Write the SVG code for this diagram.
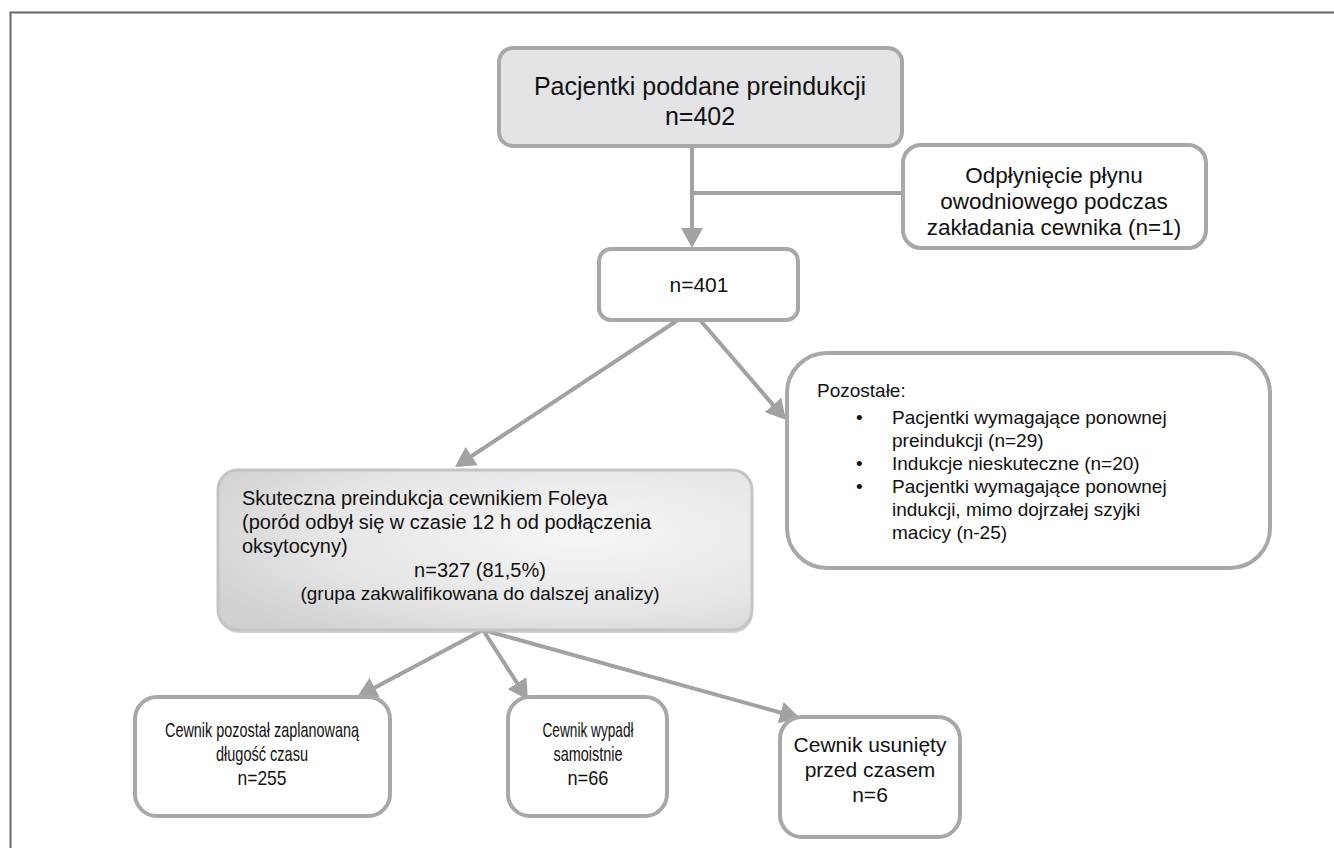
<svg xmlns="http://www.w3.org/2000/svg" width="1334" height="848" viewBox="0 0 1334 848">
<style>
.box{fill:#ffffff;stroke:#a8a8a8;stroke-width:4}
.t{font-family:"Liberation Sans",Arial,sans-serif;fill:#111111}
.c{text-anchor:middle}
.conn{stroke:#a2a2a4;stroke-width:4;fill:none}
</style>
<defs>
<marker id="arr" viewBox="0 0 20 22" refX="8" refY="11" markerWidth="20" markerHeight="22" markerUnits="userSpaceOnUse" orient="auto">
<path d="M0,0 L20,11 L0,22 z" fill="#a2a2a4"/>
</marker>
<radialGradient id="g1" cx="0.68" cy="0.4" r="0.8">
<stop offset="0" stop-color="#f6f6f6"/>
<stop offset="0.6" stop-color="#e6e6e6"/>
<stop offset="1" stop-color="#d0d0d0"/>
</radialGradient>
</defs>
<rect width="1334" height="848" fill="#ffffff"/>
<path d="M10.5,848 V12.5 H1334" fill="none" stroke="#666666" stroke-width="2"/>

<g id="connectors">
<line class="conn" x1="692" y1="146" x2="692" y2="236" marker-end="url(#arr)"/>
<line class="conn" x1="692" y1="193" x2="903" y2="193"/>
<line class="conn" x1="678" y1="320" x2="465" y2="460.4" marker-end="url(#arr)"/>
<line class="conn" x1="700" y1="320" x2="778.2" y2="410.9" marker-end="url(#arr)"/>
<line class="conn" x1="483" y1="630" x2="367.6" y2="691.4" marker-end="url(#arr)"/>
<line class="conn" x1="483" y1="630" x2="521.5" y2="689.9" marker-end="url(#arr)"/>
<line class="conn" x1="483" y1="630" x2="788.4" y2="714.8" marker-end="url(#arr)"/>
</g>

<g id="n402">
<rect x="499" y="48" width="403" height="98" rx="14" fill="#e4e4e6" stroke="#a8a8a8" stroke-width="4"/>
<text class="t c" x="700" y="95" font-size="25">Pacjentki poddane preindukcji</text>
<text class="t c" x="700" y="125" font-size="25">n=402</text>
</g>

<g id="excluded">
<rect class="box" x="903" y="145" width="303" height="103" rx="18"/>
<text class="t c" x="1054" y="183" font-size="22.5">Odpłynięcie płynu</text>
<text class="t c" x="1054" y="209" font-size="22.5">owodniowego podczas</text>
<text class="t c" x="1054" y="235" font-size="22.5">zakładania cewnika (n=1)</text>
</g>

<g id="n401">
<rect class="box" x="599" y="249" width="199" height="71" rx="12"/>
<text class="t c" x="699" y="292" font-size="21">n=401</text>
</g>

<g id="others">
<rect class="box" x="787" y="353" width="483" height="215" rx="40"/>
<text class="t" x="817" y="397" font-size="19">Pozostałe:</text>
<text class="t" x="856" y="424" font-size="19">•</text>
<text class="t" x="892" y="424" font-size="19">Pacjentki wymagające ponownej</text>
<text class="t" x="892" y="447" font-size="19">preindukcji (n=29)</text>
<text class="t" x="856" y="470" font-size="19">•</text>
<text class="t" x="892" y="470" font-size="19">Indukcje nieskuteczne (n=20)</text>
<text class="t" x="856" y="493" font-size="19">•</text>
<text class="t" x="892" y="493" font-size="19">Pacjentki wymagające ponownej</text>
<text class="t" x="892" y="516" font-size="19">indukcji, mimo dojrzałej szyjki</text>
<text class="t" x="892" y="539" font-size="19">macicy (n-25)</text>
</g>

<g id="success">
<rect x="219" y="473" width="534" height="160" rx="20" fill="#b8b8b8" opacity="0.6"/>
<rect x="218" y="470" width="534" height="160" rx="20" fill="url(#g1)" stroke="#c4c4c4" stroke-width="3"/>
<text class="t" x="242" y="505" font-size="20">Skuteczna preindukcja cewnikiem Foleya</text>
<text class="t" x="242" y="529" font-size="20">(poród odbył się w czasie 12 h od podłączenia</text>
<text class="t" x="242" y="553" font-size="20">oksytocyny)</text>
<text class="t c" x="480" y="577" font-size="20">n=327 (81,5%)</text>
<text class="t c" x="480" y="600" font-size="19">(grupa zakwalifikowana do dalszej analizy)</text>
</g>

<g id="planned">
<rect class="box" x="135" y="697" width="255" height="119" rx="22"/>
<text class="t c" x="262" y="737" font-size="21" textLength="194" lengthAdjust="spacingAndGlyphs">Cewnik pozostał zaplanowaną</text>
<text class="t c" x="262" y="761" font-size="21" textLength="92" lengthAdjust="spacingAndGlyphs">długość czasu</text>
<text class="t c" x="262" y="785" font-size="21" textLength="49" lengthAdjust="spacingAndGlyphs">n=255</text>
</g>

<g id="fell">
<rect class="box" x="508" y="697" width="159" height="119" rx="22"/>
<text class="t c" x="588" y="737" font-size="21" textLength="91" lengthAdjust="spacingAndGlyphs">Cewnik wypadł</text>
<text class="t c" x="588" y="761" font-size="21" textLength="69" lengthAdjust="spacingAndGlyphs">samoistnie</text>
<text class="t c" x="588" y="785" font-size="21" textLength="41" lengthAdjust="spacingAndGlyphs">n=66</text>
</g>

<g id="removed">
<rect class="box" x="780" y="717" width="180" height="120" rx="22"/>
<text class="t c" x="870" y="752" font-size="21">Cewnik usunięty</text>
<text class="t c" x="870" y="777" font-size="21">przed czasem</text>
<text class="t c" x="870" y="802" font-size="21">n=6</text>
</g>
</svg>
